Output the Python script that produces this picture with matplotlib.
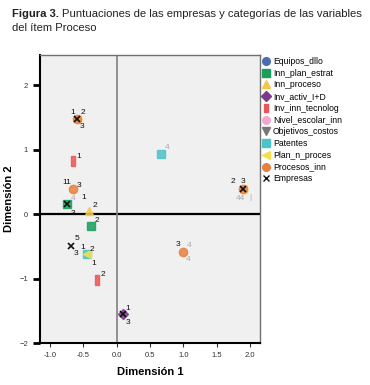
import matplotlib
matplotlib.use("Agg")
import matplotlib.pyplot as plt
from matplotlib.lines import Line2D

# --- data ---
cat_names = ["Equipos_dllo", "Inn_plan_estrat", "Inn_proceso", "Inv_activ_I+D",
             "Inv_inn_tecnolog", "Nivel_escolar_inn", "Objetivos_costos",
             "Patentes", "Plan_n_proces", "Procesos_inn", "Empresas"]
cat_x = {
    "Equipos_dllo": [],
    "Inn_plan_estrat": [-0.39, -0.74],
    "Inn_proceso": [-0.41],
    "Inv_activ_I+D": [0.09],
    "Inv_inn_tecnolog": [-0.66, -0.30],
    "Nivel_escolar_inn": [],
    "Objetivos_costos": [],
    "Patentes": [0.66, -0.44],
    "Plan_n_proces": [-0.44, -0.59, 1.90],
    "Procesos_inn": [0.99, -0.66, 1.90, -0.59],
    "Empresas": [-0.59, -0.74, -0.68, 0.09, 1.90],
}
cat_y = {
    "Equipos_dllo": [],
    "Inn_plan_estrat": [-0.19, 0.16],
    "Inn_proceso": [0.05],
    "Inv_activ_I+D": [-1.55],
    "Inv_inn_tecnolog": [0.83, -1.02],
    "Nivel_escolar_inn": [],
    "Objetivos_costos": [],
    "Patentes": [0.94, -0.62],
    "Plan_n_proces": [-0.62, 1.48, 0.39],
    "Procesos_inn": [-0.58, 0.39, 0.39, 1.48],
    "Empresas": [1.48, 0.16, -0.50, -1.55, 0.39],
}
# point labels: anchor x, anchor y, text, gray?
lab_x = [-0.59, -0.59, -0.59, -0.66, -0.66, -0.66, -0.74, -0.74, -0.74, -0.41, -0.39,
         -0.68, -0.68, -0.44, -0.44, -0.44, -0.30, 0.09, 0.09, 0.99, 0.99, 0.99, 0.66,
         1.90, 1.90, 1.90, 1.90]
lab_y = [1.48, 1.48, 1.48, 0.83, 0.39, 0.39, 0.16, 0.16, 0.16, 0.05, -0.19,
         -0.50, -0.50, -0.62, -0.62, -0.62, -1.02, -1.55, -1.55, -0.58, -0.58, -0.58, 0.94,
         0.39, 0.39, 0.39, 0.39]
lab_txt = ["1", "2", "3", "1", "11", "3", "4", "1", "3", "2", "2",
           "5", "3", "1", "2", "1", "2", "1", "3", "3", "4", "4", "4",
           "2", "3", "44", "|"]
lab_gray = [0, 0, 0, 0, 0, 0, 1, 0, 0, 0, 0,
            0, 0, 0, 0, 0, 0, 0, 0, 0, 1, 1, 1,
            0, 0, 1, 1]

# --- styles ---
rect = [(-0.45, -1), (0.45, -1), (0.45, 1), (-0.45, 1), (-0.45, -1)]
styles = {
    "Equipos_dllo": dict(marker="o", color="#4a6cb3", ms=6),
    "Inn_plan_estrat": dict(marker="s", color="#1a9e5c", ms=6),
    "Inn_proceso": dict(marker="^", color="#f5c64a", ms=6),
    "Inv_activ_I+D": dict(marker="D", color="#7b3a8a", ms=5.5),
    "Inv_inn_tecnolog": dict(marker=rect, color="#ee5555", ms=7),
    "Nivel_escolar_inn": dict(marker="o", color="#f4a6cf", ms=6),
    "Objetivos_costos": dict(marker="v", color="#777777", ms=6),
    "Patentes": dict(marker="s", color="#4cc3c9", ms=6),
    "Plan_n_proces": dict(marker="<", color="#f2e04a", ms=6),
    "Procesos_inn": dict(marker="o", color="#e8803e", ms=6),
    "Empresas": dict(marker="x", color="#111111", ms=4),
}
offsets = [(-5, 6), (6, 6), (5, -8), (6, 4), (-6, 7), (6, 4), (6, 5), (16, 6), (6, -10),
           (6, 5), (6, 6), (6, 8), (5, -7), (-5, 7), (5, 5), (6, -9), (6, 5), (5, 6),
           (5, -8), (-5, 7), (6, 6), (5, -8), (6, 6), (-10, 8), (0, 8), (-3, -9), (7, -8)]

plt.rcParams["font.family"] = ["Liberation Sans", "DejaVu Sans"]

fig = plt.figure(figsize=(3.7, 3.85), dpi=100)
ax = fig.add_axes([40 / 370, 42 / 385, 220 / 370, 288 / 385])
ax.set_facecolor("#f0f0f0")
ax.set_xlim(-1.15, 2.15)
ax.set_ylim(-2.0, 2.47)

ax.axhline(0, color="black", lw=1.6, zorder=1)
ax.axvline(0, color="#808080", lw=1.2, zorder=1)

handles = []
for name in cat_names:
    st = styles[name]
    if name == "Empresas":
        ax.plot(cat_x[name], cat_y[name], ls="none", marker="x", color=st["color"],
                ms=st["ms"], mew=1.2, zorder=5)
        handles.append(Line2D([], [], ls="none", marker="x", color=st["color"], ms=4.5, mew=1))
    else:
        ax.plot(cat_x[name], cat_y[name], ls="none", marker=st["marker"], color=st["color"],
                ms=st["ms"], mec=st["color"], alpha=0.85, zorder=3)
        handles.append(Line2D([], [], ls="none", marker=st["marker"], color=st["color"],
                              ms=5.5))

for x, y, t, g, (dx, dy) in zip(lab_x, lab_y, lab_txt, lab_gray, offsets):
    ax.annotate(t, (x, y), xytext=(dx, dy), textcoords="offset pixels",
                ha="center", va="center", fontsize=6,
                color="#aaaaaa" if g else "#111111")

ax.set_xticks([-1.0, -0.5, 0.0, 0.5, 1.0, 1.5, 2.0])
ax.set_xticklabels(["-1.0", "-0.5", "0.0", "0.5", "1.0", "1.5", "2.0"])
ax.set_yticks([-2, -1, 0, 1, 2])
ax.tick_params(axis="x", labelsize=5.5, length=3, width=0.8, colors="#333333")
ax.tick_params(axis="y", labelsize=5.5, length=5, width=2, color="black", labelcolor="#333333")
for s in ax.spines.values():
    s.set_color("#707070")
    s.set_linewidth(1)
ax.spines["left"].set_color("black")
ax.spines["left"].set_linewidth(1.5)
ax.spines["bottom"].set_color("black")
ax.spines["bottom"].set_linewidth(1.5)

ax.set_xlabel("Dimensión 1", fontsize=8, fontweight="bold", labelpad=6)
ax.set_ylabel("Dimensión 2", fontsize=8, fontweight="bold", labelpad=4)

fig.legend(handles, cat_names, loc="upper left", bbox_to_anchor=(262 / 370, 1 - 56 / 385),
           frameon=False, fontsize=6.2, handlelength=0.8, handletextpad=0.35,
           labelspacing=0.32, borderaxespad=0, borderpad=0.1)

# title: fit the first line to the reference width (~348 px)
fs = 8.5
t1 = fig.text(12 / 370, 1 - 9 / 385, "Figura 3.", fontweight="bold",
              fontsize=fs, va="top", color="#222222")
t2 = fig.text(0, 1 - 9 / 385, "Puntuaciones de las empresas y categorías de las variables",
              fontsize=fs, va="top", color="#222222")
t3 = fig.text(12 / 370, 1 - 23 / 385, "del ítem Proceso", fontsize=fs,
              va="top", color="#222222")
fig.canvas.draw()
w = t1.get_window_extent().width + 3 + t2.get_window_extent().width
fs = fs * 348 / w
for t in (t1, t2, t3):
    t.set_fontsize(fs)
fig.canvas.draw()
bb = t1.get_window_extent()
t2.set_x((bb.x1 + 3) / 370)

fig.savefig("out.png", dpi=100)
